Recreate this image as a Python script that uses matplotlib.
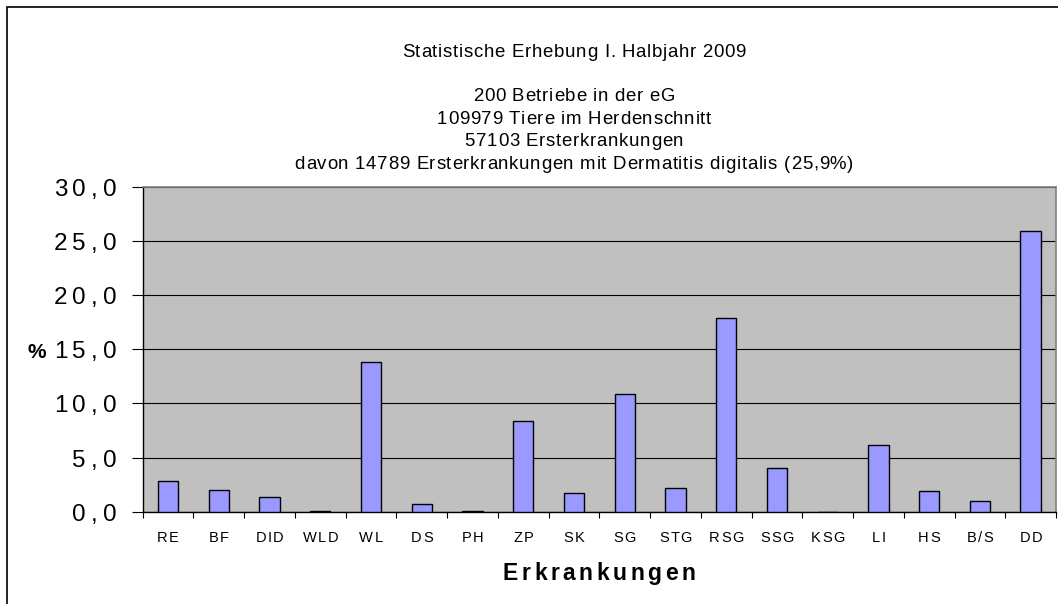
import matplotlib.pyplot as plt
import numpy as np
from matplotlib import font_manager, ft2font
from matplotlib.patches import Rectangle
from matplotlib.transforms import IdentityTransform

plt.rcParams['font.family'] = ['Liberation Sans', 'DejaVu Sans']

categories = ["RE", "BF", "DID", "WLD", "WL", "DS", "PH", "ZP", "SK",
              "SG", "STG", "RSG", "SSG", "KSG", "LI", "HS", "B/S", "DD"]
values = [2.8, 2.0, 1.4, 0.1, 13.8, 0.7, 0.1, 8.4, 1.7,
          10.9, 2.2, 17.9, 4.0, 0.0, 6.2, 1.9, 1.0, 25.9]
yticks = [0, 5, 10, 15, 20, 25, 30]
title_lines = ["Statistische Erhebung I. Halbjahr 2009",
               "200 Betriebe in der eG",
               "109979 Tiere im Herdenschnitt",
               "57103 Ersterkrankungen",
               "davon 14789 Ersterkrankungen mit Dermatitis digitalis (25,9%)"]

W, H = 1058, 604
fig = plt.figure(figsize=(W / 100, H / 100), dpi=100)


def advances(s, size, weight):
    path = font_manager.findfont(font_manager.FontProperties(family="Liberation Sans", weight=weight))
    f = ft2font.FT2Font(path)
    f.set_size(size, 100)
    return [f.load_char(ord(c)).linearHoriAdvance / 65536 for c in s]


# text with extra letter spacing, like the old Excel rendering (pixel coords, baseline)
def tracked(x, y, s, size, track, weight="normal", ha="center"):
    adv = advances(s, size, weight)
    total = sum(adv) + track * (len(s) - 1)
    cx = {"center": x - total / 2, "right": x - total, "left": x}[ha]
    for c, a in zip(s, adv):
        if c != " ":
            fig.text(cx, y, c, transform=IdentityTransform(), fontsize=size,
                     fontweight=weight, ha="left", va="baseline")
        cx += a + track


# outer frame (cropped on the right and bottom)
fig.patches.append(Rectangle((7 / W, -0.1), 1.2, 1 - 7 / H + 0.1, transform=fig.transFigure,
                             fill=False, edgecolor="black", linewidth=1.2))

ax = fig.add_axes([142.7 / W, 1 - 511.7 / H, (1056 - 142.7) / W, (511.7 - 187) / H])
ax.set_facecolor("#C0C0C0")

x = np.arange(len(categories))
ax.bar(x, values, width=0.4, color="#9999FF", edgecolor="black", linewidth=1.0, zorder=3)

ax.set_xlim(-0.5, len(categories) - 0.5)
ax.set_ylim(0, 30)
ax.set_yticks(yticks)
ax.set_yticklabels([])
ax.yaxis.grid(True, color="black", linewidth=0.8, zorder=1)

ax.set_xticks(x)
ax.set_xticklabels([])
ax.set_xticks(np.arange(-0.5, len(categories)), minor=True)
ax.tick_params(axis="x", which="major", length=0)
ax.tick_params(axis="x", which="minor", length=4, width=0.8, direction="out")
ax.tick_params(axis="y", length=8, width=0.8, direction="out")

for s in ["top", "right"]:
    ax.spines[s].set_color("#808080")
    ax.spines[s].set_linewidth(1.2)
for s in ["left", "bottom"]:
    ax.spines[s].set_color("black")
    ax.spines[s].set_linewidth(1.0)

# tick labels
for v in yticks:
    ypix = ax.transData.transform((0, v))[1]
    tracked(116, ypix - 9, f"{v:.1f}".replace(".", ","), 17.5, 5, ha="right")
for i, c in enumerate(categories):
    xpix = ax.transData.transform((i, 0))[0]
    tracked(xpix, H - 541.7, c, 10.5, 1.5)

tracked(599, H - 580, "Erkrankungen", 16.5, 3.5, weight="bold")
ypct = ax.transData.transform((0, 15))[1]
fig.text(27, ypct - 9, "%", transform=IdentityTransform(), fontsize=15,
         fontweight="bold", ha="left", va="baseline")

title_base = [56.7, 101, 123.6, 146.2, 168.8]
for line, ty in zip(title_lines, title_base):
    tracked(574, H - ty, line, 13.4, 0.7)

plt.savefig("out.png", dpi=100)
